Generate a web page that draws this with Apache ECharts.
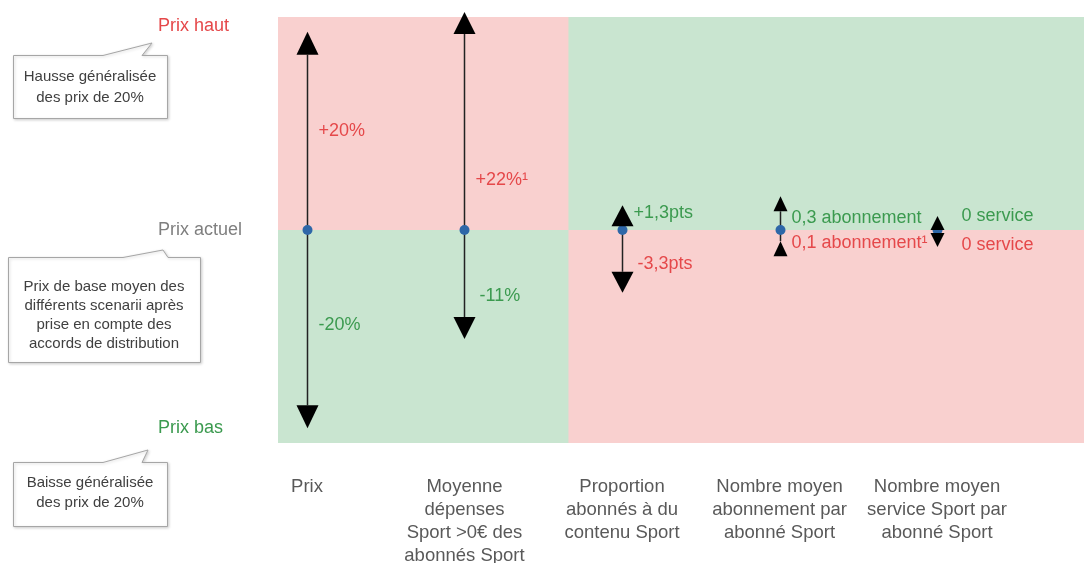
<!DOCTYPE html>
<html>
<head>
<meta charset="utf-8">
<script src="https://cdn.jsdelivr.net/npm/echarts@6/dist/echarts.min.js"></script>
<style>
  html, body { margin: 0; padding: 0; background: #ffffff; }
  #chart { width: 1084px; height: 563px; }
</style>
</head>
<body>
<div id="chart"></div>
<script>
// ---- data -------------------------------------------------------------
const categories = [
  'Prix',
  'Moyenne\ndépenses\nSport >0€ des\nabonnés Sport',
  'Proportion\nabonnés à du\ncontenu Sport',
  'Nombre moyen\nabonnement par\nabonné Sport',
  'Nombre moyen\nservice Sport par\nabonné Sport'
];
// variation when prices go up / down (unit depends on the column)
const hausse = [20, 22, 1.3, 0.3, 0];
const baisse = [-20, -11, -3.3, -0.1, 0];
const hausseLabels = ['+20%', '+22%¹', '+1,3pts', '0,3 abonnement', '0 service'];
const baisseLabels = ['-20%', '-11%', '-3,3pts', '0,1 abonnement¹', '0 service'];
// which y scale each column is measured on: %, points, abonnements, services
const columnScale = [0, 0, 1, 2, 3];
// price levels named on the left
const priceTicks = [20, 0, -20];
const priceTickLabels = ['Prix haut', 'Prix actuel', 'Prix bas'];

// ---- layout & styling -------------------------------------------------
const FONT = '"Liberation Sans", Arial, Helvetica, sans-serif';
const RED = '#e5484a';
const GREEN = '#3b9a4f';
const PINK = '#f9d0cf';
const MINT = '#c9e5d0';
const X_MIN = -0.184, X_MAX = 4.933, X_SPLIT = 1.66;
const SCALE_EXTENT = [21.5, 11.2, 1.9, 1];
// label offsets from the column's axis (px): [up, down]
const LABEL_DX = [[11, 11], [11, 15], [11, 15], [11, 11], [24, 24]];
const LABEL_DY = [[-99, 95], [-50, 66], [-17, 34], [-12, 13], [-14, 15]];
// arrow head [width, height]
const HEAD = [[22, 23], [22, 22], [22, 21], [14, 15], [14, 14]];

function head(x, apexY, dir, w, h) {
  // dir = -1 : points up, dir = +1 : points down
  return {
    type: 'polygon',
    shape: { points: [[x, apexY], [x - w / 2, apexY - dir * h], [x + w / 2, apexY - dir * h]] },
    style: { fill: '#000000' }
  };
}

function renderColumn(params, api) {
  const i = api.value(0);
  const up = api.value(1);
  const down = api.value(2);
  const p0 = api.coord([i, 0]);
  const x = Math.round(p0[0]) + 0.5;
  const y0 = p0[1];
  const yUp = api.coord([i, up])[1];
  const yDown = api.coord([i, down])[1];
  const w = HEAD[i][0], h = HEAD[i][1];
  const heads = [];
  let top = y0, bottom = y0;

  // upward arrow
  if (up === 0) {
    heads.push(head(x, y0 - h, -1, w, h));
  } else if (y0 - yUp >= h) {
    heads.push(head(x, yUp, -1, w, h));
    top = yUp + h;
  } else {
    heads.push(head(x, yUp, 1, w, h));
    top = yUp;
  }
  // downward arrow
  if (down === 0) {
    heads.push(head(x, y0 + h + 3, 1, w, h));
  } else if (yDown - y0 >= h) {
    heads.push(head(x, yDown, 1, w, h));
    bottom = yDown - h;
  } else {
    heads.push(head(x, yDown, -1, w, h));
    bottom = yDown;
  }

  const leftZone = i < X_SPLIT;
  const upColor = leftZone ? RED : GREEN;
  const downColor = leftZone ? GREEN : RED;

  const children = [
    {
      type: 'line',
      shape: { x1: x, y1: top, x2: x, y2: bottom },
      style: { stroke: '#222222', lineWidth: 1.5 }
    },
    {
      type: 'circle',
      shape: { cx: x, cy: y0, r: 5 },
      style: { fill: '#2e67a8' }
    }
  ].concat(heads, [
    {
      type: 'text',
      style: {
        text: hausseLabels[i], x: x + LABEL_DX[i][0], y: y0 + LABEL_DY[i][0],
        fill: upColor, fontSize: 18, fontFamily: FONT, align: 'left', verticalAlign: 'middle'
      }
    },
    {
      type: 'text',
      style: {
        text: baisseLabels[i], x: x + LABEL_DX[i][1], y: y0 + LABEL_DY[i][1],
        fill: downColor, fontSize: 18, fontFamily: FONT, align: 'left', verticalAlign: 'middle'
      }
    }
  ]);
  return { type: 'group', children: children };
}

const yAxes = SCALE_EXTENT.map(function (ext, k) {
  return {
    type: 'value', min: -ext, max: ext, show: k === 0,
    axisLine: { show: false }, axisTick: { show: false }, splitLine: { show: false },
    axisLabel: k === 0 ? {
      customValues: priceTicks,
      margin: 120,
      align: 'left',
      fontFamily: FONT,
      formatter: function (v) {
        const idx = priceTicks.indexOf(v);
        const key = ['haut', 'actuel', 'bas'][idx];
        return '{' + key + '|' + priceTickLabels[idx] + '}';
      },
      rich: {
        haut: { color: RED, fontSize: 18, fontFamily: FONT, padding: [0, 0, 12, 0] },
        actuel: { color: '#7f7f7f', fontSize: 18, fontFamily: FONT },
        bas: { color: GREEN, fontSize: 18, fontFamily: FONT }
      }
    } : { show: false }
  };
});

const columnSeries = categories.map(function (c, i) {
  return {
    type: 'custom',
    name: c,
    yAxisIndex: columnScale[i],
    renderItem: renderColumn,
    clip: false,
    z: 3,
    silent: true,
    data: [[i, hausse[i], baisse[i]]]
  };
});

const option = {
  backgroundColor: '#ffffff',
  animation: false,
  grid: { left: 278, right: 0, top: 17, bottom: 120, outerBoundsMode: 'none', containLabel: false },
  xAxis: {
    type: 'value', min: X_MIN, max: X_MAX,
    axisLine: { show: false }, axisTick: { show: false }, splitLine: { show: false },
    axisLabel: {
      customValues: [0, 1, 2, 3, 4],
      formatter: function (v) { return categories[Math.round(v)]; },
      color: '#595959', fontSize: 18.5, lineHeight: 23, fontFamily: FONT,
      margin: 32, verticalAlign: 'top', align: 'center'
    }
  },
  yAxis: yAxes,
  series: [
    {
      type: 'line', data: [], yAxisIndex: 0, z: 0, silent: true,
      markArea: {
        silent: true,
        data: [
          // whole upper half in mint, whole lower half in pink
          [{ xAxis: X_MIN, yAxis: 0, itemStyle: { color: MINT } }, { xAxis: X_MAX, yAxis: SCALE_EXTENT[0] }],
          [{ xAxis: X_MIN, yAxis: -SCALE_EXTENT[0], itemStyle: { color: PINK } }, { xAxis: X_MAX, yAxis: 0 }],
          // price columns: colours swapped
          [{ xAxis: X_MIN, yAxis: 0, itemStyle: { color: PINK } }, { xAxis: X_SPLIT, yAxis: SCALE_EXTENT[0] }],
          [{ xAxis: X_MIN, yAxis: -SCALE_EXTENT[0], itemStyle: { color: MINT } }, { xAxis: X_SPLIT, yAxis: 0 }]
        ]
      }
    }
  ].concat(columnSeries),
  graphic: [
    // callout: price increase
    {
      type: 'polygon', z: 10,
      shape: { points: [[13.5, 55.5], [103, 55.5], [152, 43], [142, 55.5], [167.5, 55.5], [167.5, 118.5], [13.5, 118.5]] },
      style: { fill: '#ffffff', stroke: '#a6a6a6', lineWidth: 1, shadowBlur: 3, shadowColor: 'rgba(0,0,0,0.18)', shadowOffsetX: 1, shadowOffsetY: 1 }
    },
    {
      type: 'text', z: 11, x: 90, y: 87,
      style: { text: 'Hausse généralisée\ndes prix de 20%', align: 'center', verticalAlign: 'middle', fontSize: 15, lineHeight: 21, fill: '#404040', fontFamily: FONT }
    },
    // callout: current price
    {
      type: 'polygon', z: 10,
      shape: { points: [[8.5, 257.5], [123, 257.5], [163, 250], [168, 257.5], [200.5, 257.5], [200.5, 362.5], [8.5, 362.5]] },
      style: { fill: '#ffffff', stroke: '#a6a6a6', lineWidth: 1, shadowBlur: 3, shadowColor: 'rgba(0,0,0,0.18)', shadowOffsetX: 1, shadowOffsetY: 1 }
    },
    {
      type: 'text', z: 11, x: 104, y: 315,
      style: { text: 'Prix de base moyen des\ndifférents scenarii après\nprise en compte des\naccords de distribution', align: 'center', verticalAlign: 'middle', fontSize: 15, lineHeight: 19, fill: '#404040', fontFamily: FONT }
    },
    // callout: price decrease
    {
      type: 'polygon', z: 10,
      shape: { points: [[13.5, 462.5], [103, 462.5], [148, 450], [142, 462.5], [167.5, 462.5], [167.5, 526.5], [13.5, 526.5]] },
      style: { fill: '#ffffff', stroke: '#a6a6a6', lineWidth: 1, shadowBlur: 3, shadowColor: 'rgba(0,0,0,0.18)', shadowOffsetX: 1, shadowOffsetY: 1 }
    },
    {
      type: 'text', z: 11, x: 90, y: 493,
      style: { text: 'Baisse généralisée\ndes prix de 20%', align: 'center', verticalAlign: 'middle', fontSize: 15, lineHeight: 20, fill: '#404040', fontFamily: FONT }
    }
  ]
};

const chart = echarts.init(document.getElementById('chart'), null, { renderer: 'canvas' });
chart.setOption(option);
</script>
</body>
</html>
